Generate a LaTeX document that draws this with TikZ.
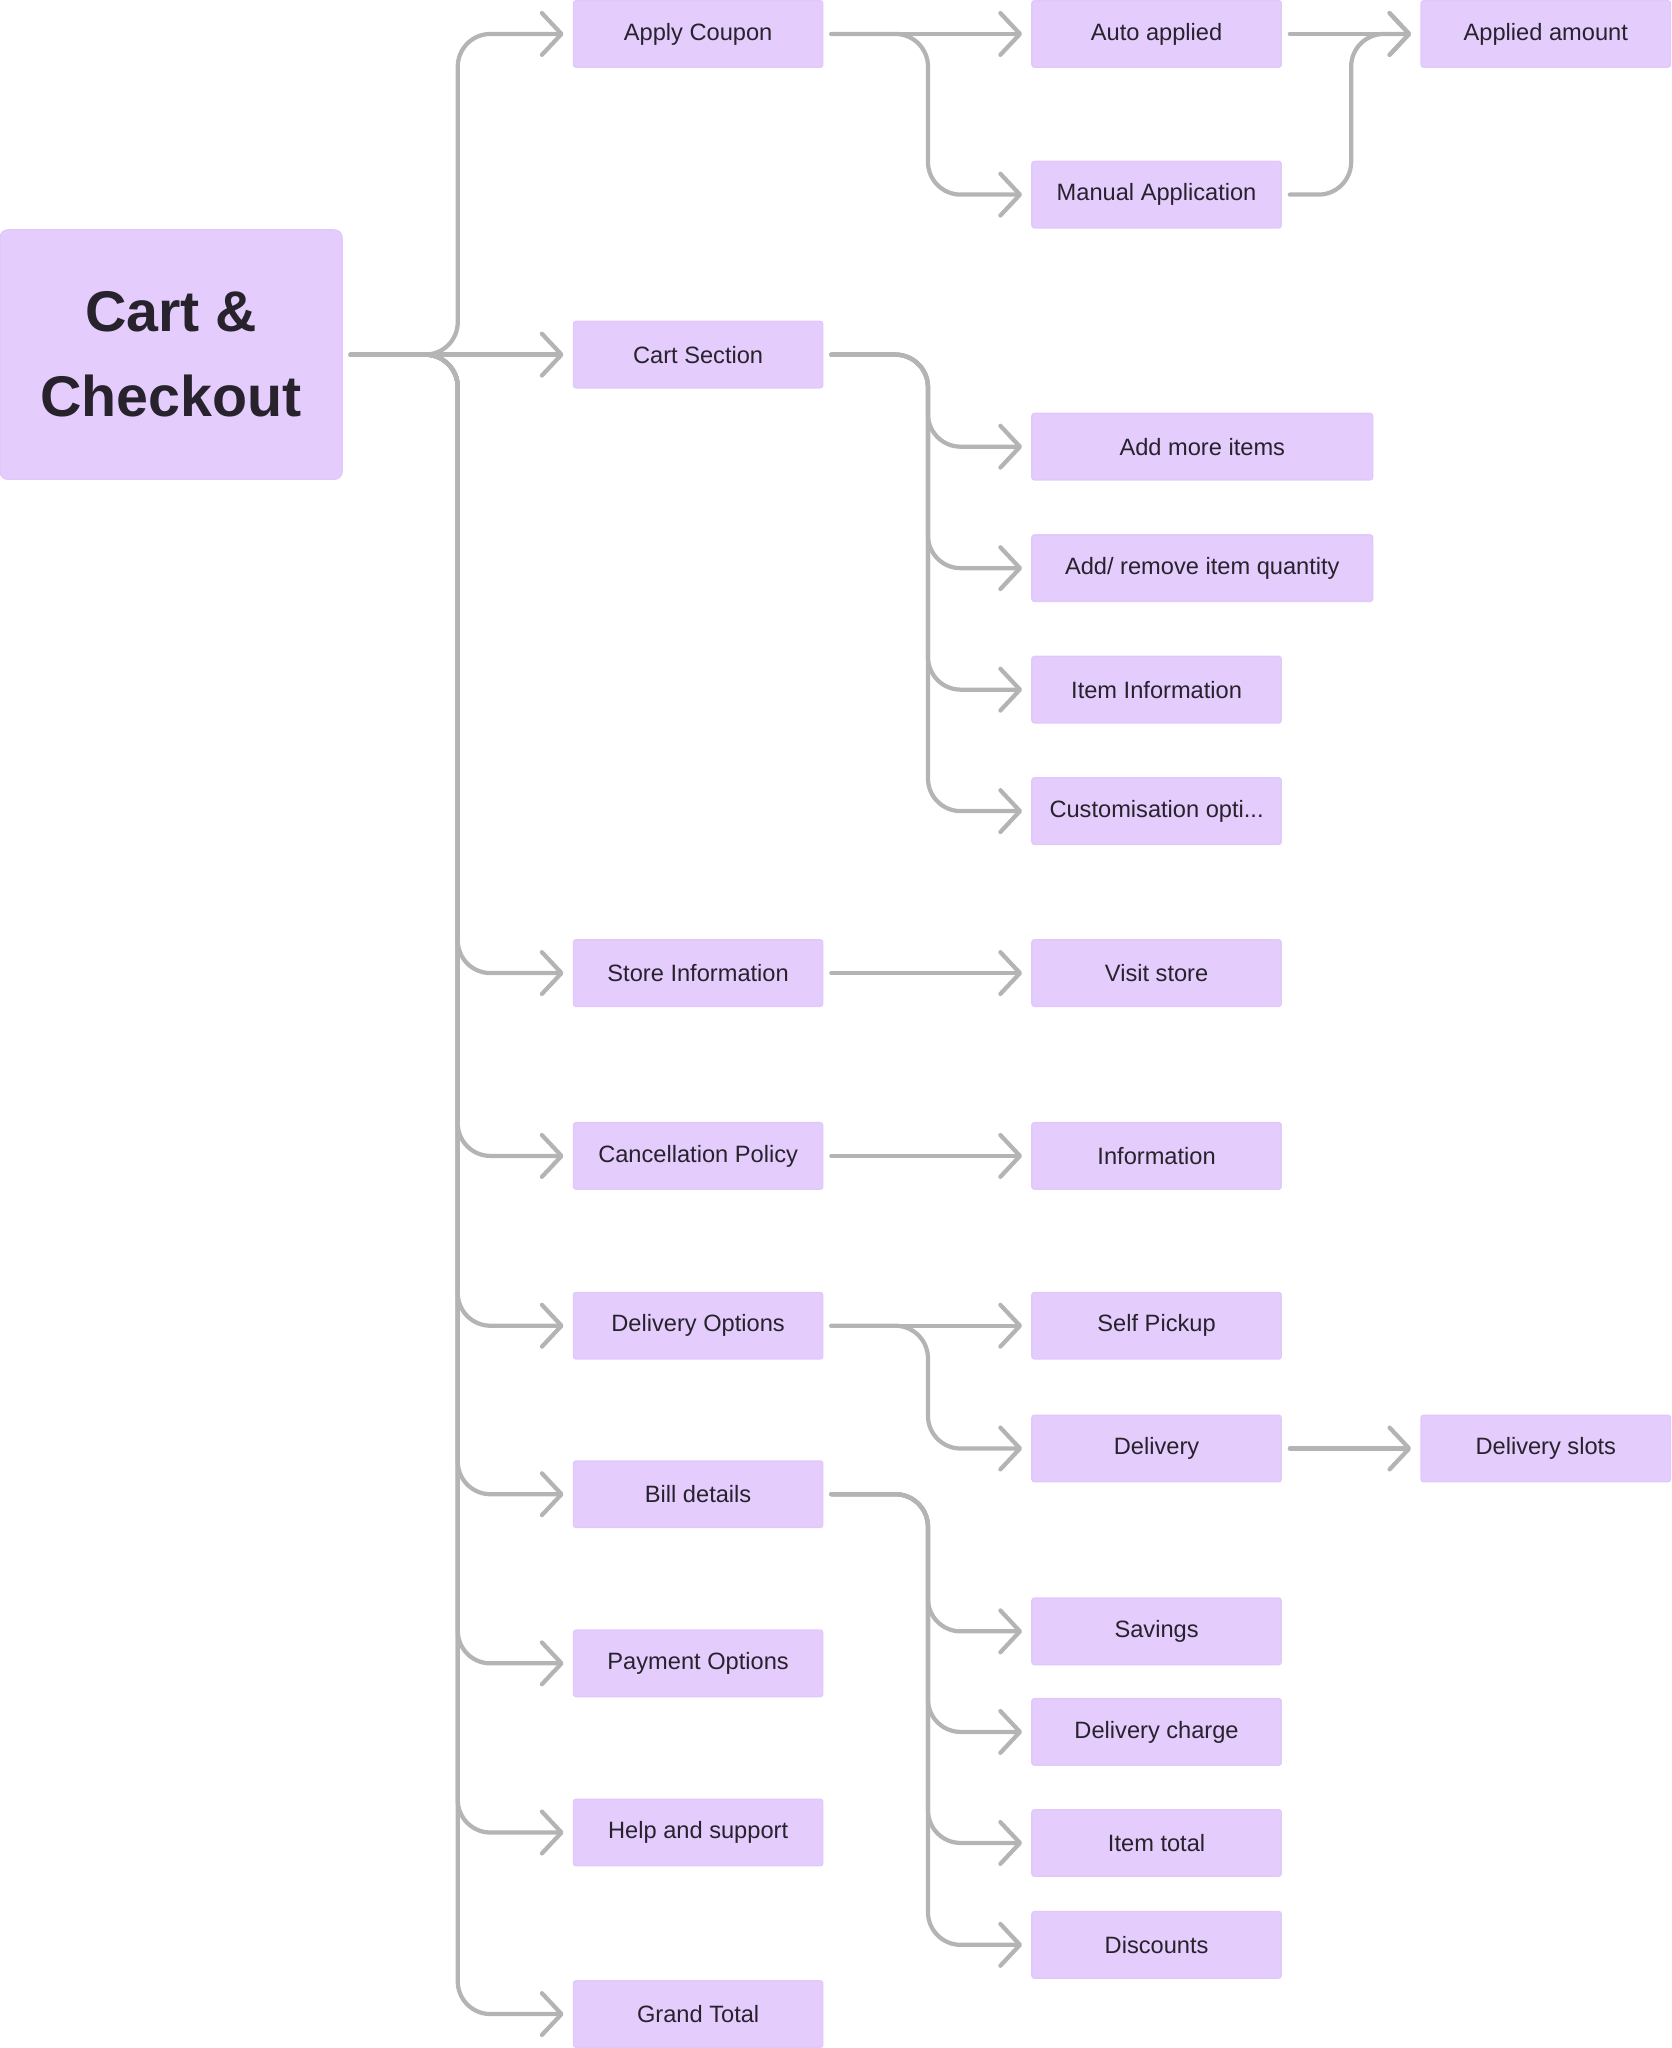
\documentclass[tikz,border=0pt]{standalone}
\usepackage{fontspec}
\setmainfont{Liberation Sans}
\usetikzlibrary{arrows.meta,positioning}
\definecolor{boxfill}{RGB}{228,204,252}
\definecolor{boxline}{RGB}{225,200,251}
\definecolor{linkgray}{RGB}{180,180,180}
\definecolor{ink}{RGB}{40,34,45}
\tikzset{
  item/.style={draw=boxline, line width=0.02cm, fill=boxfill, rounded corners=0.04cm,
    minimum width=3.82cm, minimum height=1.02cm, inner sep=0pt, text=ink,
    font=\fontsize{10.3}{12}\selectfont},
  wideitem/.style={item, minimum width=5.22cm},
  rootitem/.style={item, minimum width=5.24cm, minimum height=3.82cm, rounded corners=0.12cm,
    align=center, font=\fontsize{25}{37}\selectfont\bfseries},
  link/.style={draw=linkgray, line width=0.065cm, rounded corners=0.5cm, line cap=round,
    -{Straight Barb[length=0.3cm,width=0.64cm,round]}, shorten <=0.12cm, shorten >=0.14cm}
}
\begin{document}
\begin{tikzpicture}[x=0.02cm,y=-0.02cm]
\useasboundingbox (0,0) rectangle (1280,1568);

\node[rootitem] (cart) at (131,271.5) {Cart \&\\Checkout};

\node[item] (coupon) at (534.5,26) {Apply Coupon};
\node[item] (section) at (534.5,271.5) {Cart Section};
\node[item] (store) at (534.5,745) {Store Information};
\node[item] (cancel) at (534.5,885) {Cancellation Policy};
\node[item] (options) at (534.5,1015) {Delivery Options};
\node[item] (bill) at (534.5,1144) {Bill details};
\node[item] (payment) at (534.5,1273.5) {Payment Options};
\node[item] (help) at (534.5,1403) {Help and support};
\node[item] (grand) at (534.5,1542) {Grand Total};

\node[item] (auto) at (885.5,26) {Auto applied};
\node[item] (manual) at (885.5,149) {Manual Application};
\node[wideitem] (addmore) at (920.5,342) {Add more items};
\node[wideitem] (quantity) at (920.5,435) {Add/ remove item quantity};
\node[item] (iteminfo) at (885.5,528) {Item Information};
\node[item] (custom) at (885.5,621) {Customisation opti...};
\node[item] (visit) at (885.5,745) {Visit store};
\node[item] (info) at (885.5,885) {Information};
\node[item] (pickup) at (885.5,1015) {Self Pickup};
\node[item] (delivery) at (885.5,1109) {Delivery};
\node[item] (savings) at (885.5,1249) {Savings};
\node[item] (charge) at (885.5,1326) {Delivery charge};
\node[item] (total) at (885.5,1411) {Item total};
\node[item] (discounts) at (885.5,1489) {Discounts};

\node[item] (amount) at (1183.5,26) {Applied amount};
\node[item] (slots) at (1183.5,1109) {Delivery slots};

\draw[link] (cart) -- (section);
\foreach \to in {coupon,store,cancel,options,bill,payment,help,grand}
  \draw[link] (cart.east) -- ++(88,0) |- (\to.west);

\draw[link] (coupon) -- (auto);
\draw[link] (coupon.east) -- ++(80,0) |- (manual.west);
\draw[link] (auto) -- (amount);
\draw[link] (manual.east) -- ++(53,0) |- (amount.west);

\foreach \to in {addmore,quantity,iteminfo,custom}
  \draw[link] (section.east) -- ++(80,0) |- (\to.west);

\draw[link] (store) -- (visit);
\draw[link] (cancel) -- (info);

\draw[link] (options) -- (pickup);
\draw[link] (options.east) -- ++(80,0) |- (delivery.west);
\draw[link] (delivery) -- (slots);

\foreach \to in {savings,charge,total,discounts}
  \draw[link] (bill.east) -- ++(80,0) |- (\to.west);
\end{tikzpicture}
\end{document}
